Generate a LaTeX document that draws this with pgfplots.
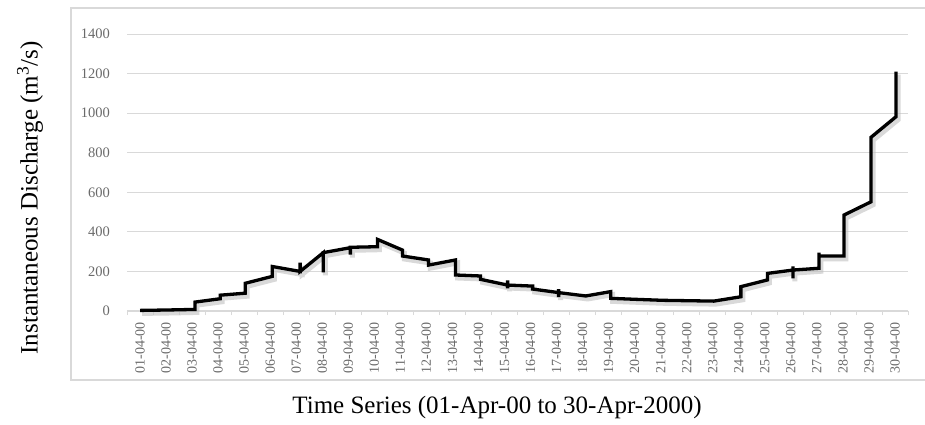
\documentclass[border=0pt]{standalone}
\usepackage{pgfplots}
\pgfplotsset{compat=1.18}
\usepackage{pgfplotstable}
\usepackage{fontspec}
\setmainfont{Liberation Serif}
\definecolor{tickgray}{HTML}{6A6A6A}
\definecolor{gridgray}{HTML}{D9D9D9}
\definecolor{framegray}{HTML}{D9D9D9}

\pgfplotstableread{
t v
0.5 3
1.5 5
2.61 8
2.61 45
3.58 62
3.58 80
4.54 90
4.54 140
5.58 175
5.58 225
6.65 200
6.65 245
6.65 200
7.54 295
7.54 195
7.54 295
8.58 320
8.58 285
8.58 322
9.62 325
9.62 362
10.58 308
10.58 278
11.58 258
11.58 232
12.62 258
12.62 182
13.58 177
13.58 160
14.62 131
14.62 155
14.62 115
14.62 131
15.58 126
15.58 111
16.58 93
16.58 111
16.58 70
16.58 93
17.62 76
18.58 98
18.58 64
19.54 59
20.58 54
22.54 50
23.58 72
23.58 123
24.6 157
24.6 190
25.58 207
25.58 225
25.58 165
25.58 207
26.58 216
26.58 295
26.58 278
27.54 278
27.54 485
28.58 552
28.58 878
29.54 982
29.54 1210
}\discharge

\begin{document}
\begin{tikzpicture}[x=1pt,y=1pt]
\useasboundingbox (0,0) rectangle (925,424);
\draw[framegray, line width=2pt] (71,416) rectangle (930,44);
\begin{axis}[
  at={(127pt,113pt)}, anchor=south west,
  scale only axis, width=781pt, height=277pt,
  xmin=0, xmax=30, ymin=0, ymax=1400,
  clip=false,
  axis x line*=bottom, axis y line*=left,
  separate axis lines,
  axis line style={-},
  x axis line style={draw=gridgray, line width=1.2pt},
  y axis line style={draw=none},
  ytick={0,200,...,1400},
  ymajorgrids, grid style={gridgray, line width=0.8pt},
  xtick={0.5,1.5,...,29.5},
  xticklabels={01-04-00,02-04-00,03-04-00,04-04-00,05-04-00,06-04-00,07-04-00,08-04-00,09-04-00,10-04-00,11-04-00,12-04-00,13-04-00,14-04-00,15-04-00,16-04-00,17-04-00,18-04-00,19-04-00,20-04-00,21-04-00,22-04-00,23-04-00,24-04-00,25-04-00,26-04-00,27-04-00,28-04-00,29-04-00,30-04-00},
  minor xtick={0,1,...,30},
  major tick length=0pt, minor tick length=4pt,
  tick align=outside,
  minor tick style={draw=gridgray, line width=0.8pt},
  xticklabel style={yshift=-11pt, rotate=90, anchor=east, inner sep=0pt, font=\fontsize{14}{14}\selectfont, text=tickgray},
  yticklabel style={anchor=east, inner sep=0pt, xshift=-17pt, font=\fontsize{14.5}{14.5}\selectfont, text=tickgray},
  /pgf/number format/assume math mode=true,
  /pgf/number format/1000 sep={},
]
\addplot[black!25, line width=5pt, opacity=0.6, shift={(2pt,-3pt)}] table[x=t,y=v] {\discharge};
\addplot[black, line width=3.3pt] table[x=t,y=v] {\discharge};
\end{axis}
\node[rotate=90, font=\fontsize{25}{25}\selectfont] at (30,226) {Instantaneous Discharge (m\textsuperscript{3}/s)};
\node[font=\fontsize{25}{25}\selectfont] at (497,17) {Time Series (01-Apr-00 to 30-Apr-2000)};
\end{tikzpicture}
\end{document}
